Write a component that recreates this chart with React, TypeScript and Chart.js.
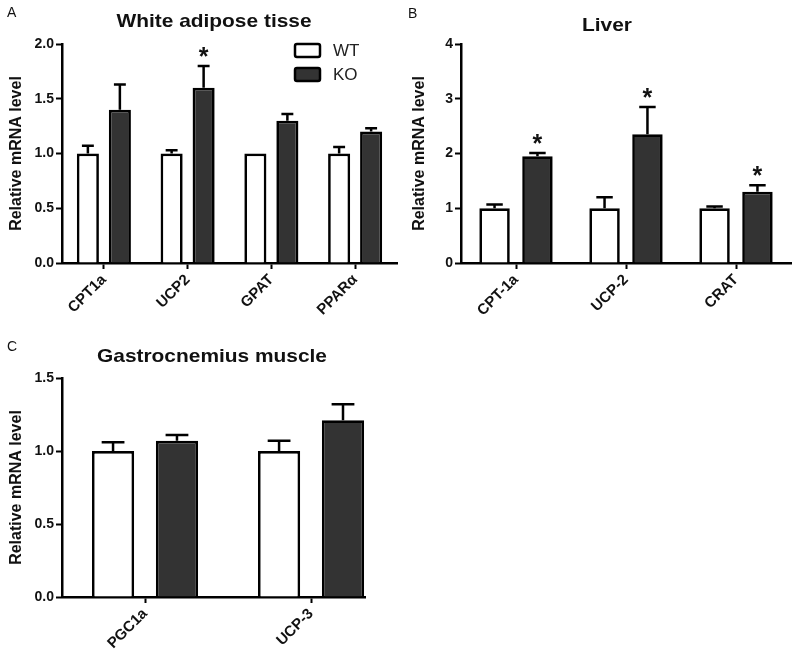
import React, { useEffect, useRef } from 'react';
import { Chart, registerables } from 'chart.js';

Chart.register(...registerables);
Chart.defaults.font.family = 'Arial, "Liberation Sans", sans-serif';

// ---------- Panel A: White adipose tissue ----------
const watCategories = ['CPT1a', 'UCP2', 'GPAT', 'PPARα'];
const watWT = [1.0, 1.0, 1.0, 1.0];
const watWTErr = [0.07, 0.03, 0, 0.06];
const watKO = [1.4, 1.6, 1.3, 1.2];
const watKOErr = [0.23, 0.2, 0.06, 0.03];
const watKOSig = [false, true, false, false];
const watYTicks = [0, 0.5, 1.0, 1.5, 2.0];

// ---------- Panel B: Liver ----------
const liverCategories = ['CPT-1a', 'UCP-2', 'CRAT'];
const liverWT = [1.0, 1.0, 1.0];
const liverWTErr = [0.07, 0.2, 0.03];
const liverKO = [1.95, 2.35, 1.3];
const liverKOErr = [0.06, 0.5, 0.12];
const liverKOSig = [true, true, true];
const liverYTicks = [0, 1, 2, 3, 4];

// ---------- Panel C: Gastrocnemius muscle ----------
const muscleCategories = ['PGC1a', 'UCP-3'];
const muscleWT = [1.0, 1.0];
const muscleWTErr = [0.06, 0.07];
const muscleKO = [1.07, 1.21];
const muscleKOErr = [0.04, 0.11];
const muscleKOSig = [false, false];
const muscleYTicks = [0, 0.5, 1.0, 1.5];

const seriesNames = ['WT', 'KO'];
const FONT = 'Arial, "Liberation Sans", sans-serif';

const errorBarPlugin = {
  id: 'errorBars',
  afterDatasetsDraw(chart: any) {
    const { ctx } = chart;
    const yScale = chart.scales.y;
    chart.data.datasets.forEach((ds: any, i: number) => {
      const meta = chart.getDatasetMeta(i);
      const errs: number[] = ds.errors || [];
      const sig: boolean[] = ds.significant || [];
      meta.data.forEach((bar: any, j: number) => {
        const raw = ds.data[j];
        const v = typeof raw === 'number' ? raw : raw.y;
        const e = errs[j] || 0;
        const yTop = yScale.getPixelForValue(v + e);
        const capHalf = bar.width * 0.27;
        ctx.save();
        ctx.strokeStyle = '#000';
        ctx.lineWidth = 2.5;
        if (e > 0) {
          ctx.beginPath();
          ctx.moveTo(bar.x, bar.y);
          ctx.lineTo(bar.x, yTop);
          ctx.moveTo(bar.x - capHalf, yTop);
          ctx.lineTo(bar.x + capHalf, yTop);
          ctx.stroke();
        }
        if (sig[j]) {
          ctx.fillStyle = '#111';
          ctx.font = `bold 25px ${FONT}`;
          ctx.textAlign = 'center';
          ctx.textBaseline = 'alphabetic';
          ctx.fillText('*', bar.x, yTop - 1);
        }
        ctx.restore();
      });
    });
  },
};

const panelTextPlugin = {
  id: 'panelText',
  afterDraw(chart: any, _args: any, opts: any) {
    const { ctx } = chart;
    ctx.save();
    ctx.fillStyle = '#111';
    ctx.textBaseline = 'alphabetic';
    ctx.font = `14px ${FONT}`;
    ctx.textAlign = 'left';
    ctx.fillText(opts.letter, opts.letterX, opts.letterY);
    ctx.translate(opts.titleX, opts.titleY);
    ctx.scale(1.1, 1);
    ctx.font = `bold 19px ${FONT}`;
    ctx.textAlign = 'center';
    ctx.fillText(opts.title, 0, 0);
    ctx.restore();
  },
};

const boxLegendPlugin = {
  id: 'boxLegend',
  afterDraw(chart: any, _args: any, opts: any) {
    if (!opts || !opts.show) return;
    const { ctx } = chart;
    chart.data.datasets.forEach((ds: any, i: number) => {
      const x = opts.x;
      const y = opts.y + i * opts.gap;
      ctx.save();
      ctx.fillStyle = ds.backgroundColor;
      ctx.strokeStyle = '#000';
      ctx.lineWidth = 2.5;
      ctx.beginPath();
      if (ctx.roundRect) ctx.roundRect(x, y, opts.w, opts.h, 2);
      else ctx.rect(x, y, opts.w, opts.h);
      ctx.fill();
      ctx.stroke();
      ctx.fillStyle = '#222';
      ctx.font = `17px ${FONT}`;
      ctx.textAlign = 'left';
      ctx.textBaseline = 'middle';
      ctx.fillText(ds.label, x + opts.w + 13, y + opts.h / 2 + 1);
      ctx.restore();
    });
  },
};

type Spec = {
  labels: string[];
  wt: number[];
  wtErr: number[];
  ko: number[];
  koErr: number[];
  sig: boolean[];
  yTicks: number[];
  decimals: number;
  yAxisWidth: number;
  xAxisHeight: number;
  padTop: number;
  padRight: number;
  yTitlePad: number;
  catPct: number;
  barPct: number;
  linearX?: { min: number; max: number };
  text: any;
  legend: any;
};

function makeConfig(s: Spec): any {
  const linear = !!s.linearX;
  const toData = (arr: number[]) => (linear ? arr.map((v, i) => ({ x: i, y: v })) : arr);
  const tickFont = { family: FONT, size: 14, weight: 'bold' as const };
  const xTickFont = { family: FONT, size: 15, weight: 'bold' as const };
  const xScale: any = linear
    ? {
        type: 'linear',
        min: s.linearX!.min,
        max: s.linearX!.max,
        offset: false,
        afterBuildTicks: (sc: any) => {
          sc.ticks = s.labels.map((_, i) => ({ value: i }));
        },
        ticks: {
          callback: (v: any) => s.labels[Math.round(v)],
          autoSkip: false,
          minRotation: 45,
          maxRotation: 45,
          font: xTickFont,
          color: '#111',
          padding: 2,
        },
      }
    : {
        type: 'category',
        offset: true,
        ticks: {
          autoSkip: false,
          minRotation: 45,
          maxRotation: 45,
          font: xTickFont,
          color: '#111',
          padding: 2,
        },
      };
  xScale.z = 1;
  xScale.grid = {
    offset: false,
    drawOnChartArea: false,
    drawTicks: true,
    tickLength: 6,
    color: '#000',
    tickWidth: 2,
  };
  xScale.border = { display: true, color: '#000', width: 2.5 };
  xScale.afterFit = (sc: any) => {
    sc.height = s.xAxisHeight;
  };

  const yMin = s.yTicks[0];
  const yMax = s.yTicks[s.yTicks.length - 1];
  return {
    type: 'bar',
    data: {
      labels: s.labels,
      datasets: [
        {
          label: seriesNames[0],
          data: toData(s.wt),
          errors: s.wtErr,
          significant: s.wt.map(() => false),
          backgroundColor: '#ffffff',
          borderColor: '#000000',
          borderWidth: 2.7,
          categoryPercentage: s.catPct,
          barPercentage: s.barPct,
        },
        {
          label: seriesNames[1],
          data: toData(s.ko),
          errors: s.koErr,
          significant: s.sig,
          backgroundColor: '#333333',
          borderColor: '#000000',
          borderWidth: 2.7,
          categoryPercentage: s.catPct,
          barPercentage: s.barPct,
        },
      ],
    },
    options: {
      responsive: false,
      animation: false,
      events: [],
      layout: { padding: { top: s.padTop, right: s.padRight, left: 0, bottom: 0 } },
      plugins: {
        legend: { display: false },
        tooltip: { enabled: false },
        title: { display: false },
        panelText: s.text,
        boxLegend: s.legend,
      },
      scales: {
        x: xScale,
        y: {
          min: yMin,
          max: yMax,
          z: 1,
          afterBuildTicks: (sc: any) => {
            sc.ticks = s.yTicks.map((v) => ({ value: v }));
          },
          afterFit: (sc: any) => {
            sc.width = s.yAxisWidth;
          },
          ticks: {
            callback: (v: any) => Number(v).toFixed(s.decimals),
            font: tickFont,
            color: '#111',
            padding: 2,
          },
          grid: {
            drawOnChartArea: false,
            drawTicks: true,
            tickLength: 6,
            color: '#000',
            tickWidth: 2,
          },
          border: { display: true, color: '#000', width: 2.5 },
          title: {
            display: true,
            text: 'Relative mRNA level',
            font: { family: FONT, size: 16, weight: 'bold' },
            color: '#111',
            padding: { top: s.yTitlePad, bottom: 0 },
          },
        },
      },
    },
    plugins: [errorBarPlugin, panelTextPlugin, boxLegendPlugin],
  };
}

function Panel({ left, top, width, height, spec }: { left: number; top: number; width: number; height: number; spec: Spec }) {
  const ref = useRef<HTMLCanvasElement>(null);
  useEffect(() => {
    const chart = new Chart(ref.current as HTMLCanvasElement, makeConfig(spec));
    return () => chart.destroy();
  }, []);
  return (
    <canvas
      ref={ref}
      width={width}
      height={height}
      style={{ position: 'absolute', left, top, width, height, display: 'block' }}
    />
  );
}

const specA: Spec = {
  labels: watCategories,
  wt: watWT,
  wtErr: watWTErr,
  ko: watKO,
  koErr: watKOErr,
  sig: watKOSig,
  yTicks: watYTicks,
  decimals: 1,
  yAxisWidth: 62,
  xAxisHeight: 67,
  padTop: 44,
  padRight: 3,
  yTitlePad: 7.4,
  catPct: 0.764,
  barPct: 0.69,
  text: { letter: 'A', letterX: 7, letterY: 17, title: 'White adipose tisse', titleX: 214, titleY: 27 },
  legend: { show: true, x: 295, y: 44, gap: 24, w: 25, h: 13 },
};

const specB: Spec = {
  labels: liverCategories,
  wt: liverWT,
  wtErr: liverWTErr,
  ko: liverKO,
  koErr: liverKOErr,
  sig: liverKOSig,
  yTicks: liverYTicks,
  decimals: 0,
  yAxisWidth: 61,
  xAxisHeight: 67,
  padTop: 44,
  padRight: 9,
  yTitlePad: 10.4,
  catPct: 0.78,
  barPct: 0.71,
  text: { letter: 'B', letterX: 8, letterY: 18, title: 'Liver', titleX: 207, titleY: 31 },
  legend: { show: false },
};

const specC: Spec = {
  labels: muscleCategories,
  wt: muscleWT,
  wtErr: muscleWTErr,
  ko: muscleKO,
  koErr: muscleKOErr,
  sig: muscleKOSig,
  yTicks: muscleYTicks,
  decimals: 1,
  yAxisWidth: 62,
  xAxisHeight: 68,
  padTop: 48,
  padRight: 35,
  yTitlePad: 7.4,
  catPct: 0.77,
  barPct: 0.66,
  linearX: { min: -0.5, max: 1.325 },
  text: { letter: 'C', letterX: 7, letterY: 21, title: 'Gastrocnemius muscle', titleX: 212, titleY: 32 },
  legend: { show: false },
};

export default function App() {
  return (
    <div style={{ position: 'absolute', left: 0, top: 0, width: 800, height: 665, background: '#ffffff', overflow: 'hidden' }}>
      <Panel left={0} top={0} width={400} height={330} spec={specA} />
      <Panel left={400} top={0} width={400} height={330} spec={specB} />
      <Panel left={0} top={330} width={400} height={335} spec={specC} />
    </div>
  );
}
